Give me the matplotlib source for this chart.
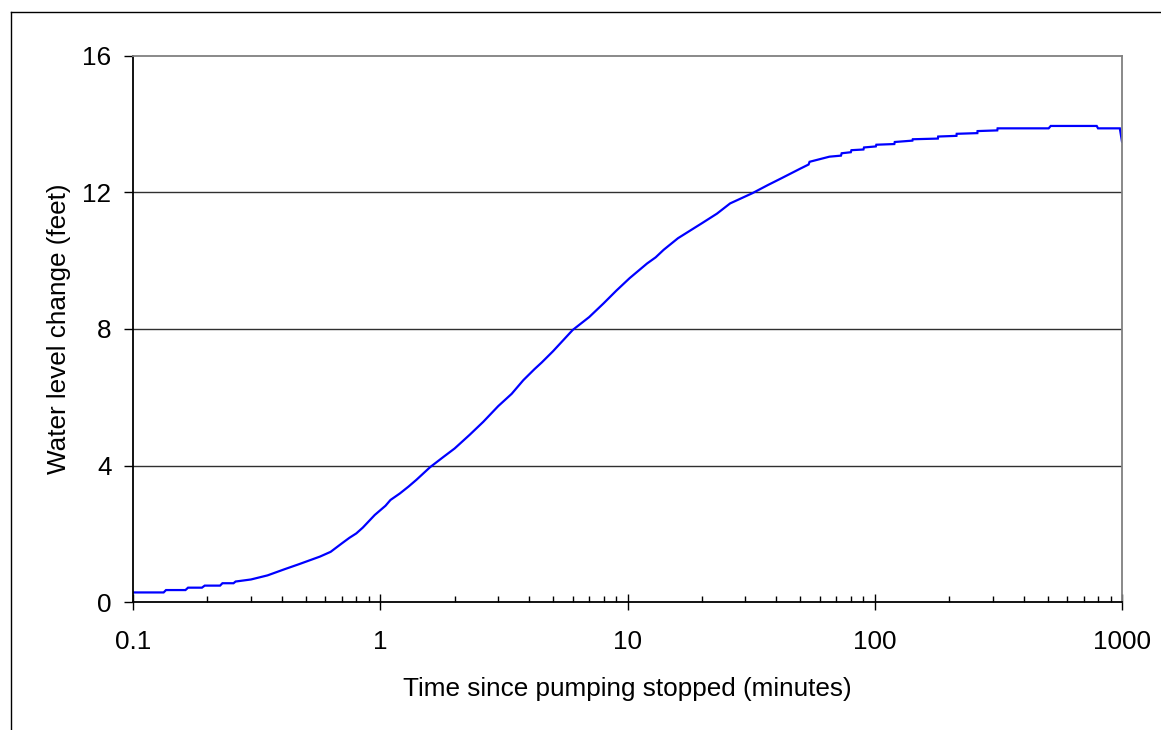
import matplotlib
matplotlib.use("Agg")
import matplotlib.pyplot as plt
from matplotlib.lines import Line2D
from matplotlib.ticker import LogLocator, FixedLocator, NullFormatter
import numpy as np

plt.rcParams['font.family'] = ['Liberation Sans', 'DejaVu Sans']

# recovery data
time_min = [0.1, 0.133, 0.136, 0.163, 0.167, 0.19, 0.195, 0.225, 0.23, 0.255,
            0.26, 0.30, 0.35, 0.41, 0.47, 0.57, 0.63, 0.70, 0.75, 0.8, 0.85,
            0.95, 1.05, 1.1, 1.2, 1.3, 1.4, 1.59, 1.8, 2.0, 2.3, 2.61, 3.0,
            3.4, 3.79, 4.2, 4.5, 5.0, 6.0, 7.0, 8.0, 9.0, 10.2, 12, 13, 14,
            16, 20, 23, 26, 32, 37, 42, 50, 54, 54.5, 65.6, 73, 73.5, 80,
            80.5, 90, 90.5, 101, 101.5, 120, 120.5, 142, 142.5, 180, 180.5,
            214, 214.5, 260, 260.5, 313, 314, 505, 515, 790, 800, 980, 1000]
level_ft = [0.28, 0.28, 0.35, 0.35, 0.42, 0.42, 0.48, 0.48, 0.55, 0.55,
            0.60, 0.66, 0.78, 0.96, 1.11, 1.33, 1.47, 1.72, 1.88, 2.01, 2.18,
            2.55, 2.82, 2.99, 3.18, 3.38, 3.58, 3.95, 4.25, 4.50, 4.90, 5.28, 5.74,
            6.10, 6.50, 6.82, 7.02, 7.35, 7.97, 8.35, 8.75, 9.12, 9.49, 9.92, 10.10, 10.32,
            10.66, 11.10, 11.38, 11.68, 11.98, 12.22, 12.42, 12.70, 12.82, 12.90, 13.05, 13.08, 13.15, 13.18,
            13.24, 13.26, 13.32, 13.35, 13.40, 13.42, 13.48, 13.52, 13.56, 13.58, 13.64,
            13.66, 13.72, 13.74, 13.80, 13.82, 13.88, 13.88, 13.95, 13.95, 13.88,
            13.88, 13.49]

x_ticks = [0.1, 1, 10, 100, 1000]
x_labels = ['0.1', '1', '10', '100', '1000']
y_ticks = [0, 4, 8, 12, 16]

fig = plt.figure(figsize=(11.61, 7.3), dpi=100)
ax = fig.add_axes([133 / 1161, 128 / 730, 989 / 1161, 546 / 730])

ax.plot(time_min, level_ft, color='#0000ff', lw=1.6, solid_joinstyle='miter')

ax.set_xscale('log')
ax.set_xlim(0.1, 1000)
ax.set_ylim(0, 16)

ax.xaxis.set_major_locator(FixedLocator(x_ticks))
ax.set_xticklabels(x_labels)
ax.xaxis.set_minor_locator(LogLocator(base=10, subs=np.arange(2, 10)))
ax.xaxis.set_minor_formatter(NullFormatter())
ax.set_yticks(y_ticks)
ax.set_yticklabels([str(v) for v in y_ticks])

ax.tick_params(axis='x', which='major', direction='inout', length=12, width=1,
               labelsize=18.8, pad=14, color='black')
ax.tick_params(axis='x', which='minor', direction='in', length=4.5, width=1,
               color='black')
ax.tick_params(axis='y', which='major', direction='out', length=6.5, width=1,
               labelsize=18.8, pad=9, color='black')

for y in y_ticks[1:-1]:
    ax.axhline(y, color='#303030', lw=1, zorder=0)

ax.spines['left'].set_color('black')
ax.spines['bottom'].set_color('black')
ax.spines['top'].set_color('#808080')
ax.spines['right'].set_color('#808080')
for s in ax.spines.values():
    s.set_linewidth(1.3)

ax.set_xlabel('Time since pumping stopped (minutes)', fontsize=18.8, labelpad=17)
ax.set_ylabel('Water level change (feet)', fontsize=18.8, labelpad=8)

# outer chart frame (only left and top edges visible)
fig.add_artist(Line2D([10.5 / 1161, 10.5 / 1161], [0, 718 / 730],
                      transform=fig.transFigure, color='black', lw=1))
fig.add_artist(Line2D([10.5 / 1161, 1], [718 / 730, 718 / 730],
                      transform=fig.transFigure, color='black', lw=1))

fig.savefig('out.png', dpi=100)
